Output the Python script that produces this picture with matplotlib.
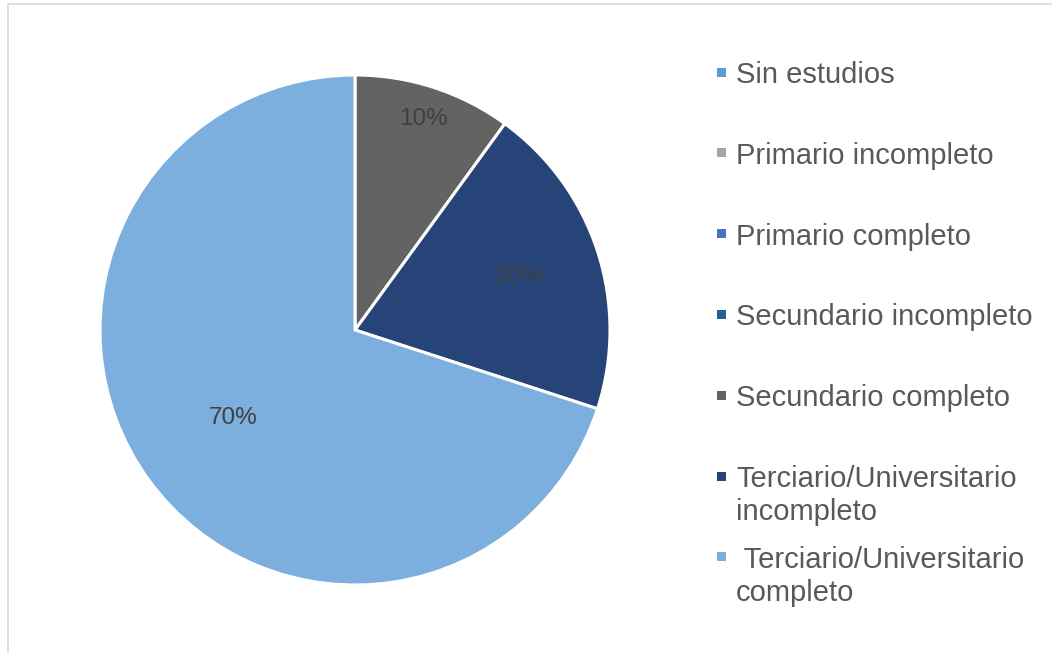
import matplotlib
matplotlib.use("Agg")
import matplotlib.pyplot as plt
from matplotlib.patches import Rectangle
import numpy as np

plt.rcParams['font.family'] = ['Liberation Sans', 'DejaVu Sans']

categories = [
    "Sin estudios",
    "Primario incompleto",
    "Primario completo",
    "Secundario incompleto",
    "Secundario completo",
    "Terciario/Universitario\nincompleto",
    " Terciario/Universitario\ncompleto",
]
values = [0, 0, 0, 0, 10, 20, 70]
colors = ["#5B9BD5", "#A5A5A5", "#4472C4", "#255E91",
          "#636363", "#264478", "#7CAFDD"]
# radial position of each percentage label (fraction of radius)
label_dist = [0.7, 0.7, 0.7, 0.7, 0.87, 0.675, 0.59]

W, H = 1052, 653
fig = plt.figure(figsize=(W / 100, H / 100), dpi=100)

# light chart-area border
fig.patches.append(Rectangle((8 / W, -0.2), 1.2, 1.2 - 4 / H,
                             transform=fig.transFigure, fill=False,
                             edgecolor="#D9D9D9", linewidth=1.2))

cx, cy, r = 355, H - 330, 255
ax = fig.add_axes([(cx - r) / W, (cy - r) / H, 2 * r / W, 2 * r / H])

idx = [i for i, v in enumerate(values) if v > 0]
wedges, _ = ax.pie([values[i] for i in idx],
                   colors=[colors[i] for i in idx],
                   startangle=90, counterclock=False, radius=1,
                   wedgeprops=dict(edgecolor="white", linewidth=2.2))
total = sum(values)
for w, i in zip(wedges, idx):
    mid = np.deg2rad((w.theta1 + w.theta2) / 2)
    d = label_dist[i]
    ax.text(d * np.cos(mid), d * np.sin(mid),
            f"{values[i] / total * 100:.0f}%",
            ha="center", va="center", fontsize=17.5, color="#404040")
ax.set_xlim(-1, 1)
ax.set_ylim(-1, 1)
ax.set_aspect("equal")
ax.axis("off")

# legend
y0, step, line_h = 72, 80.8, 33
for k, (lab, col) in enumerate(zip(categories, colors)):
    y = y0 + k * step
    fig.patches.append(Rectangle(((721 - 4.5) / W, (H - y - 4.5) / H),
                                 9 / W, 9 / H, transform=fig.transFigure,
                                 facecolor=col, edgecolor="none"))
    for j, line in enumerate(lab.split("\n")):
        fig.text(736 / W, (H - y - j * line_h) / H, line, ha="left",
                 va="center_baseline", fontsize=21, color="#595959")

fig.savefig("out.png", dpi=100)
